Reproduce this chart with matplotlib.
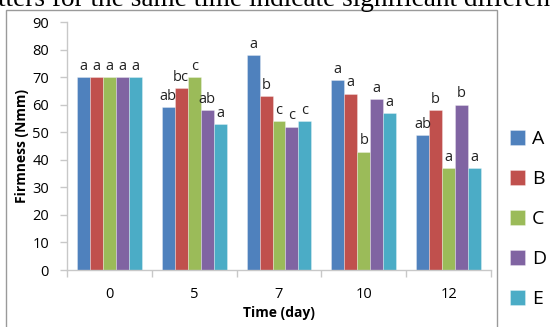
import matplotlib
matplotlib.use("Agg")
import matplotlib.pyplot as plt
from matplotlib.patches import Rectangle
import numpy as np

plt.rcParams['font.family'] = ['Open Sans', 'DejaVu Sans']

days = ["0", "5", "7", "10", "12"]
series = ["A", "B", "C", "D", "E"]
colors = ["#4F81BD", "#C0504D", "#9BBB59", "#8064A2", "#4BACC6"]

firm_A = [70, 59, 78, 69, 49]
firm_B = [70, 66, 63, 64, 58]
firm_C = [70, 70, 54, 43, 37]
firm_D = [70, 58, 52, 62, 60]
firm_E = [70, 53, 54, 57, 37]

let_A = ["a", "ab", "a", "a", "ab"]
let_B = ["a", "bc", "b", "a", "b"]
let_C = ["a", "c", "c", "b", "a"]
let_D = ["a", "ab", "c", "a", "b"]
let_E = ["a", "a", "c", "a", "a"]

values = [firm_A, firm_B, firm_C, firm_D, firm_E]
letters = [let_A, let_B, let_C, let_D, let_E]

W, H = 550, 327
fig = plt.figure(figsize=(W / 100, H / 100), dpi=100)

# caption line running off the top of the page
fig.text(-0.004, 1 - 6.5 / H, "tters for the same time indicate significant difference",
         family="Liberation Serif", fontsize=19.6, ha="left", va="baseline")

# chart area border
fig.patches.append(Rectangle((5.5 / W, -0.05), (497 - 5.5) / W, 1.05 - 9.5 / H,
                             transform=fig.transFigure, fill=False,
                             edgecolor="#9a9a9a", linewidth=1.0))

ax = fig.add_axes([67 / W, (H - 270) / H, (491 - 67) / W, 248 / H])
x = np.arange(len(days))
bw = 0.153
axis_col = "#c8c8c8"

for i, (vals, labs) in enumerate(zip(values, letters)):
    pos = x + (i - 2) * bw
    ax.bar(pos, vals, width=bw, color=colors[i], edgecolor=(1, 1, 1, 0.35),
           linewidth=0.6, label=series[i])
    for px, v, t in zip(pos, vals, labs):
        ax.text(px, v + 1.2, t, ha="center", va="bottom", fontsize=10.5, color="#222222")

ax.set_xlim(-0.5, len(days) - 0.5)
ax.set_ylim(0, 90)
ax.set_yticks(np.arange(0, 91, 10))
ax.set_xticks(x)
ax.set_xticklabels(days)
ax.set_xticks(np.arange(-0.5, len(days), 1), minor=True)
ax.tick_params(axis="x", which="major", length=0, pad=12, labelsize=10.5)
ax.tick_params(axis="x", which="minor", length=5, color=axis_col, width=1)
ax.tick_params(axis="y", length=5, color=axis_col, width=1, labelsize=10.5, pad=8)
for s in ["top", "right"]:
    ax.spines[s].set_visible(False)
for s in ["left", "bottom"]:
    ax.spines[s].set_color(axis_col)
    ax.spines[s].set_linewidth(1)

ax.set_xlabel("Time (day)", fontsize=10, fontweight="bold", labelpad=3)
ax.set_ylabel("Firmness (Nmm)", fontsize=10, fontweight="bold", labelpad=2)

leg = fig.legend(loc="upper left", bbox_to_anchor=(502 / W, 1 - 122 / H),
                 frameon=False, fontsize=14, handlelength=0.8, handleheight=0.8,
                 handletextpad=0.35, labelspacing=1.12, borderaxespad=0)

fig.savefig("out.png", dpi=100)
